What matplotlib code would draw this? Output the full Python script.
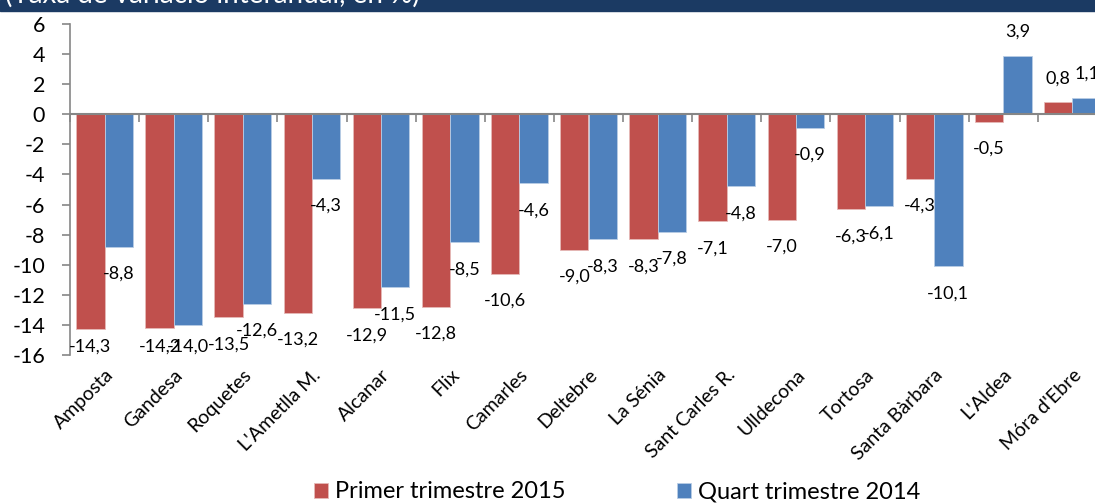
import numpy as np
import matplotlib
matplotlib.use("Agg")
import matplotlib.pyplot as plt
from matplotlib.patches import Rectangle

plt.rcParams['font.family'] = ['Lato', 'DejaVu Sans']

# Data
municipis = ["Amposta", "Gandesa", "Roquetes", "L'Ametlla M.", "Alcanar", "Flix",
             "Camarles", "Deltebre", "La Sénia", "Sant Carles R.", "Ulldecona",
             "Tortosa", "Santa Bàrbara", "L'Aldea", "Móra d'Ebre"]
primer_2015 = [-14.3, -14.2, -13.5, -13.2, -12.9, -12.8, -10.6, -9.0, -8.3,
               -7.1, -7.0, -6.3, -4.3, -0.5, 0.8]
quart_2014 = [-8.8, -14.0, -12.6, -4.3, -11.5, -8.5, -4.6, -8.3, -7.8,
              -4.8, -0.9, -6.1, -10.1, 3.9, 1.1]
series_names = ["Primer trimestre 2015", "Quart trimestre 2014"]
yticks = list(range(-16, 7, 2))

RED = "#C0504D"
BLUE = "#4F81BD"
GRAY = "#868686"

W, H = 1095, 503
fig = plt.figure(figsize=(W / 100, H / 100), dpi=100)

# header band, mostly cut off at the top
fig.patches.append(Rectangle((0, 1 - 11 / H), 1, 11 / H, transform=fig.transFigure,
                             color="#1B3A63", zorder=0))
fig.text(5 / W, 1 - 3 / H, "(Taxa de variació interanual, en %)", color="white",
         fontsize=20, va="baseline", ha="left")

ax = fig.add_axes([70 / W, 1 - 355 / H, 1037 / W, 331 / H])
x = np.arange(len(municipis))
bw = 0.41
b1 = ax.bar(x - bw / 2, primer_2015, bw, color=RED, edgecolor="#E6B9B8", linewidth=0.6,
            label=series_names[0], zorder=2)
b2 = ax.bar(x + bw / 2, quart_2014, bw, color=BLUE, edgecolor="#B9CDE5", linewidth=0.6,
            label=series_names[1], zorder=2)

ax.set_xlim(-0.5, len(municipis) - 0.5)
ax.set_ylim(-16, 6)
ax.set_yticks(yticks)
ax.set_yticklabels([str(t) for t in yticks], fontsize=15.5)
ax.tick_params(axis="y", direction="out", length=6, color=GRAY, width=1.2, pad=12)

ax.set_xticks(x)
ax.set_xticklabels(municipis, rotation=45, ha="right", rotation_mode="anchor",
                   fontsize=14)
ax.tick_params(axis="x", length=0, pad=8)

for s in ["top", "right", "bottom"]:
    ax.spines[s].set_visible(False)
ax.spines["left"].set_color(GRAY)
ax.spines["left"].set_linewidth(1.2)

# zero line with category boundary ticks
ax.axhline(0, color=GRAY, lw=1.5, zorder=3)
bounds = np.arange(len(municipis) + 1) - 0.5
ax.plot(bounds, np.zeros_like(bounds), ls="none", marker=3, markersize=6,
        color=GRAY, mew=1.2, zorder=3, clip_on=False)

# data labels (outside end, kept inside the plot area)
def label_bars(xs, vals):
    for xi, v in zip(xs, vals):
        txt = f"{v:.1f}".replace(".", ",")
        if v >= 0:
            yl = v + 1.6
        else:
            yl = max(v - 1.8, -15.45)
        ax.text(xi, yl, txt, ha="center", va="center", fontsize=13, zorder=4)

label_bars(x - bw / 2, primer_2015)
label_bars(x + bw / 2, quart_2014)

leg = fig.legend(handles=[b1, b2], labels=series_names, loc="center",
                 bbox_to_anchor=(617 / W, 1 - 492 / H), ncol=2, frameon=False,
                 fontsize=17, handlelength=0.6, handleheight=0.6,
                 handletextpad=0.3, columnspacing=4.7, borderaxespad=0)

fig.savefig("out.png", dpi=100)
